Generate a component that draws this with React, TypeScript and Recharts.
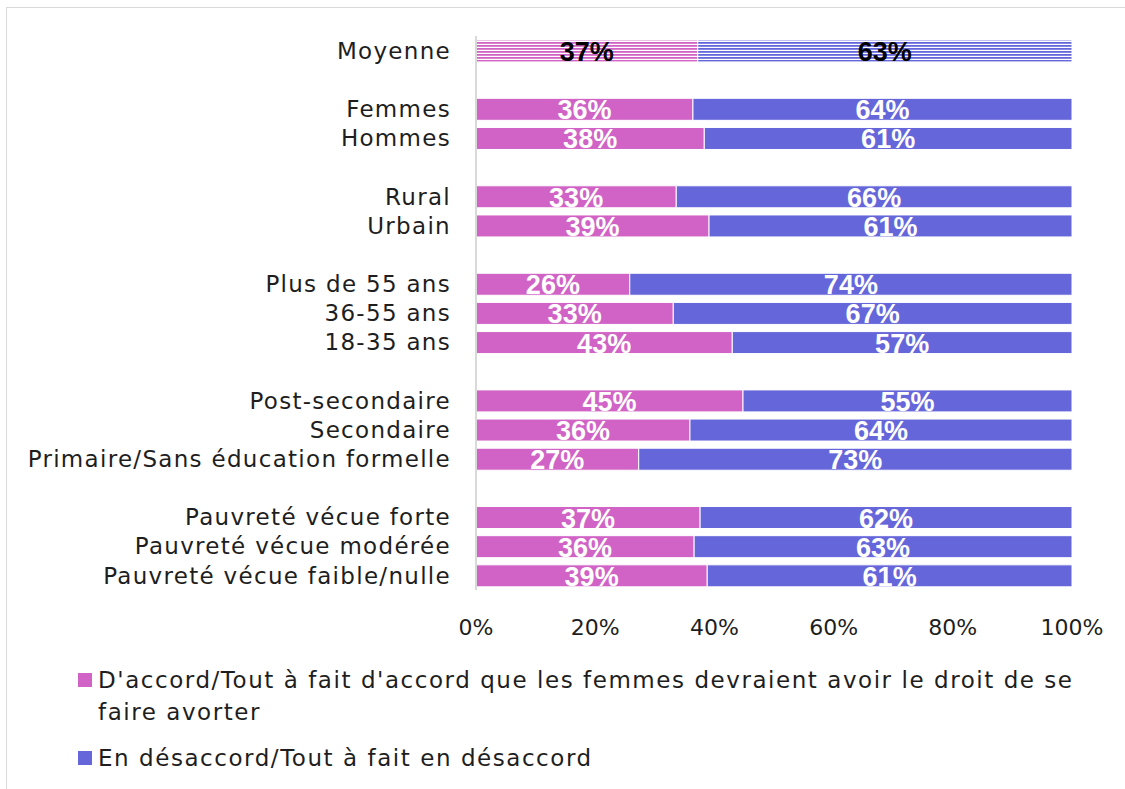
import React from 'react';
import { BarChart, Bar, XAxis, YAxis, LabelList, Cell } from 'recharts';

// row labels, '' = spacer row between groups
const categories = [
  'Moyenne', '',
  'Femmes', 'Hommes', '',
  'Rural', 'Urbain', '',
  'Plus de 55 ans', '36-55 ans', '18-35 ans', '',
  'Post-secondaire', 'Secondaire', 'Primaire/Sans éducation formelle', '',
  'Pauvreté vécue forte', 'Pauvreté vécue modérée', 'Pauvreté vécue faible/nulle'
];
const agree = [37.2, null, 36.4, 38.3, null, 33.6, 39.1, null, 25.8, 33.1, 43.0, null, 44.8, 35.9, 27.3, null, 37.6, 36.6, 38.8];
const disagree = [62.8, null, 63.6, 61.7, null, 66.4, 60.9, null, 74.2, 66.9, 57.0, null, 55.2, 64.1, 72.7, null, 62.4, 63.4, 61.2];
const agreeLabels = ['37%', '', '36%', '38%', '', '33%', '39%', '', '26%', '33%', '43%', '', '45%', '36%', '27%', '', '37%', '36%', '39%'];
const disagreeLabels = ['63%', '', '64%', '61%', '', '66%', '61%', '', '74%', '67%', '57%', '', '55%', '64%', '73%', '', '62%', '63%', '61%'];
const xTicks = [0, 20, 40, 60, 80, 100];

const PINK = '#D063C5';
const BLUE = '#6666DB';
const FONT = "'DejaVu Sans', sans-serif";
const LABEL_FONT = "'Liberation Sans Narrow', 'Liberation Sans', sans-serif";
const TEXT = '#1e1e1e';

const rows = categories.map((name, i) => ({
  id: i,
  name,
  agree: agree[i],
  disagree: disagree[i],
  agreeLabel: agreeLabels[i],
  disagreeLabel: disagreeLabels[i]
}));

const BarLabel = (props: any) => {
  const { x, y, width, height, value, index } = props;
  if (!value) return null;
  return (
    <text
      x={x + width / 2}
      y={y + height / 2 + 1}
      textAnchor="middle"
      dominantBaseline="central"
      fill={index === 0 ? '#000' : '#fff'}
      fontFamily={LABEL_FONT}
      fontWeight="bold"
      fontSize={27}
    >
      {value}
    </text>
  );
};

const App = () => {
  return (
    <div style={{ position: 'absolute', left: 0, top: 0, width: 1125, height: 789, overflow: 'hidden', background: '#fff' }}>
      <div style={{ position: 'absolute', left: 6, top: 7, width: 1140, height: 800, border: '1px solid #d9d9d9' }} />
      <div style={{ position: 'absolute', left: 0, top: 0 }}>
        <BarChart
          width={1125}
          height={650}
          data={rows}
          layout="vertical"
          margin={{ top: 36, right: 53, bottom: 20, left: 0 }}
        >
          <defs>
            <pattern id="stripePink" width="6" height="3" patternUnits="userSpaceOnUse">
              <rect width="6" height="3" fill="#fff" />
              <rect width="6" height="1.8" fill={PINK} />
            </pattern>
            <pattern id="stripeBlue" width="6" height="3" patternUnits="userSpaceOnUse">
              <rect width="6" height="3" fill="#fff" />
              <rect width="6" height="1.8" fill={BLUE} />
            </pattern>
          </defs>
          <XAxis
            type="number"
            domain={[0, 100]}
            ticks={xTicks}
            tickFormatter={(v) => `${v}%`}
            axisLine={false}
            tickLine={false}
            tickMargin={23}
            height={40}
            tick={{ fontSize: 22, fill: TEXT, fontFamily: FONT }}
          />
          <YAxis
            type="category"
            dataKey="id"
            width={476}
            tickFormatter={(i) => categories[i]}
            interval={0}
            tickLine={false}
            tickMargin={19}
            axisLine={{ stroke: '#d9d9d9', strokeWidth: 2 }}
            tick={{ fontSize: 23, fill: TEXT, fontFamily: FONT, letterSpacing: 1.3 }}
          />
          <Bar dataKey="agree" stackId="a" fill={PINK} stroke="#fff" strokeWidth={1} barSize={22} isAnimationActive={false}>
            {rows.map((r) => (
              <Cell key={r.id} fill={r.id === 0 ? 'url(#stripePink)' : PINK} />
            ))}
            <LabelList dataKey="agreeLabel" content={BarLabel} />
          </Bar>
          <Bar dataKey="disagree" stackId="a" fill={BLUE} stroke="#fff" strokeWidth={1} barSize={22} isAnimationActive={false}>
            {rows.map((r) => (
              <Cell key={r.id} fill={r.id === 0 ? 'url(#stripeBlue)' : BLUE} />
            ))}
            <LabelList dataKey="disagreeLabel" content={BarLabel} />
          </Bar>
        </BarChart>
      </div>
      {/* legend */}
      <div style={{ position: 'absolute', left: 78, top: 664, fontFamily: FONT, fontSize: 23, letterSpacing: 1.55, color: TEXT, lineHeight: '32px' }}>
        <div style={{ position: 'absolute', left: 0, top: 9, width: 14, height: 14, background: PINK }} />
        <div style={{ position: 'absolute', left: 20, top: 0, whiteSpace: 'nowrap' }}>
          D'accord/Tout à fait d'accord que les femmes devraient avoir le droit de se
          <br />
          faire avorter
        </div>
      </div>
      <div style={{ position: 'absolute', left: 78, top: 742, fontFamily: FONT, fontSize: 23, letterSpacing: 1.55, color: TEXT, lineHeight: '32px' }}>
        <div style={{ position: 'absolute', left: 0, top: 9, width: 14, height: 14, background: BLUE }} />
        <div style={{ position: 'absolute', left: 20, top: 0, whiteSpace: 'nowrap' }}>En désaccord/Tout à fait en désaccord</div>
      </div>
    </div>
  );
};

export default App;
